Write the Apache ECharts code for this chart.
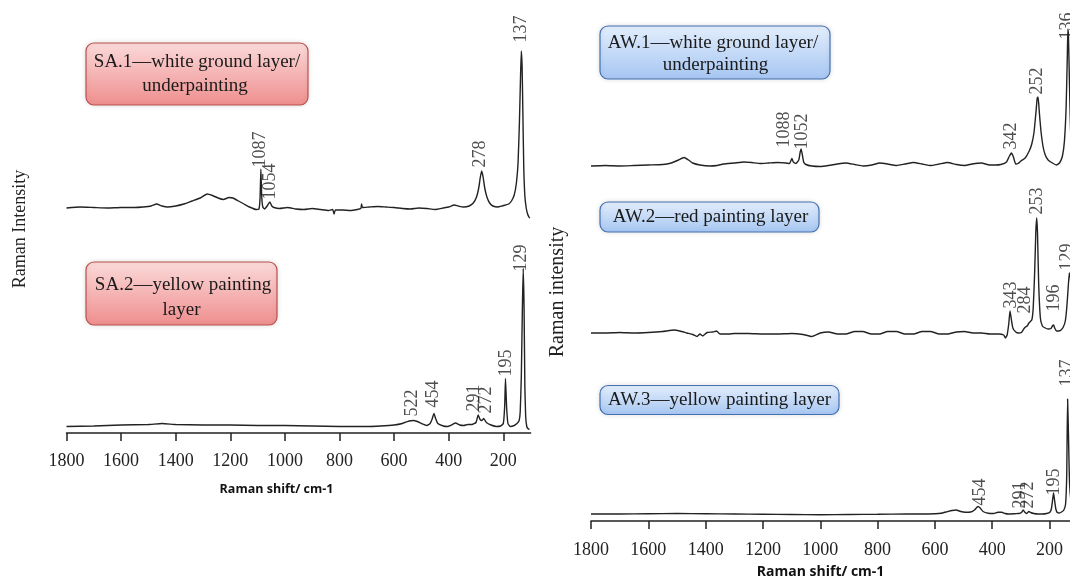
<!DOCTYPE html>
<html><head><meta charset="utf-8">
<script src="https://cdn.jsdelivr.net/npm/echarts@6/dist/echarts.min.js"></script>
<style>html,body{margin:0;padding:0;background:#fff}#c{width:1070px;height:577px}</style>
</head><body><div id="c"></div>
<script>
// ---------- data ----------
const TICKS = [200, 400, 600, 800, 1000, 1200, 1400, 1600, 1800];
const X_TITLE = 'Raman shift/ cm-1';

// stacking offsets of the spectra (arbitrary intensity units)
const SA1_OFFSET = 225;
const SA2_OFFSET = 6.5;
const AW1_OFFSET = 355;
const AW2_OFFSET = 188;
const AW3_OFFSET = 7;

// [Raman shift, relative intensity]
const sa1 = [[1800,0],[1750,1],[1700,0.5],[1650,0],[1600,0.5],[1550,0.5],[1520,1],[1490,2],[1470,4],[1450,2],[1430,1],[1400,2],[1370,4],[1340,7],[1310,10],[1285,14],[1265,12.5],[1245,10],[1225,8.5],[1205,10.5],[1190,10],[1170,7],[1150,4],[1130,1],[1105,-1.5],[1095,-1],[1091,10],[1088,39],[1085,12],[1081,1],[1075,-1],[1065,2],[1055,6],[1048,2],[1040,0.5],[1020,-0.5],[990,0.5],[960,-1],[930,-1.5],[900,-0.5],[870,-1.5],[840,-2.5],[825,-1.5],[820,-6],[815,-2],[790,-2],[760,-2.5],[735,-1.5],[722,-0.5],[719,4],[716,0.5],[690,1],[660,1.5],[630,1],[600,0.5],[570,-0.5],[540,-1],[510,0],[480,-0.5],[450,-1.5],[420,0],[400,1],[380,3],[365,2],[345,1],[325,2],[310,5],[298,11],[290,20],[284,31],[279,37],[274,31],[268,20],[260,11],[250,5],[238,2],[220,1],[205,2],[192,3],[180,4],[170,7],[160,13],[152,25],[146,45],[141,85],[137,130],[134,157],[131,140],[128,90],[125,40],[121,12],[116,0],[111,-6],[106,-9],[103,-10]];
const sa2 = [[1800,0],[1700,0.5],[1600,1.5],[1500,2],[1450,3],[1400,2],[1300,1.5],[1200,1.5],[1100,1],[1000,1],[900,0.5],[800,0],[700,0],[650,0.5],[600,1.5],[570,3],[545,5.5],[530,6],[515,5],[500,3],[480,1],[468,3],[460,8],[454,13],[448,8],[440,3],[420,0.5],[405,0],[390,1.5],[375,3.5],[360,1.5],[345,1],[330,2],[315,2],[300,4],[292,11.5],[285,7],[278,6],[272,8],[262,4],[245,1.5],[225,0],[210,0.5],[200,3],[195,20],[192,48],[188,20],[183,3],[175,0],[160,1],[150,3],[142,6],[138,15],[134,50],[130,120],[127,158],[124,120],[121,40],[118,10],[114,0],[110,-2],[104,-3]];
const aw1 = [[1800,0],[1750,0.5],[1700,0],[1650,0.5],[1600,1],[1550,1.5],[1520,3],[1495,6],[1475,8.5],[1460,6],[1445,3],[1420,1],[1385,0],[1360,0.5],[1338,2],[1300,3],[1267,4],[1240,3.5],[1208,2.5],[1180,3],[1148,3.5],[1120,3],[1107,2.5],[1103,5],[1099,7.5],[1094,4],[1085,2.5],[1075,6],[1070,14],[1067,17],[1063,12],[1058,4],[1050,1.5],[1030,0],[1000,-0.5],[971,0.5],[940,2],[911,3],[880,1.5],[850,0],[820,1],[793,3],[765,2],[734,0.5],[705,2],[674,3.5],[645,2],[615,0.5],[585,2],[556,3.5],[525,1.5],[497,0.5],[470,2],[437,3],[410,1],[389,1],[370,1.5],[350,4],[340,10],[333,13],[326,9],[318,2],[310,2.5],[300,5],[285,8],[271,15],[262,22],[254,34],[247,55],[243,68],[240,69],[236,55],[230,35],[223,20],[215,11],[205,6],[190,3],[176,1],[165,3],[155,10],[148,25],[142,60],[138,110],[136,137],[134,130],[131,90],[127,40],[122,15],[115,5],[100,0]];
const aw2 = [[1800,0],[1750,0],[1700,0.5],[1650,0],[1600,0.5],[1550,1.5],[1510,3],[1490,2],[1465,0],[1445,-1.5],[1430,-3.5],[1420,-1],[1410,-3],[1395,0.5],[1375,1],[1362,2],[1350,-1],[1320,-1],[1300,-0.5],[1250,-0.5],[1200,-1],[1150,-1],[1100,-0.5],[1060,-1.5],[1030,-3.5],[1000,0],[971,1],[940,-1],[911,-1],[880,1.5],[852,1.5],[822,-1],[793,-1],[765,1.5],[734,1.5],[705,-1],[674,-1],[645,1.5],[615,1.5],[585,-1],[556,-1],[525,1],[497,1.5],[467,0],[437,0],[408,-1],[378,-1],[360,-2],[354,-5],[348,-2],[342,10],[338,22],[334,15],[328,5],[318,1],[308,0],[298,0.5],[290,4],[284,6],[278,7],[272,10],[262,13],[257,25],[252,60],[248,100],[245,115],[242,100],[238,50],[232,15],[225,7],[215,5],[205,4],[195,4.5],[190,7],[186,8],[182,5],[176,2],[168,2],[160,3],[152,6],[145,12],[140,25],[135,45],[131,60],[127,55],[122,25],[115,8],[100,0]];
const aw3 = [[1800,0],[1700,0],[1600,0.3],[1500,0.5],[1400,0.3],[1300,0],[1200,-0.3],[1100,-0.5],[1000,-0.8],[900,-0.5],[800,-0.3],[700,0],[640,0],[600,0.3],[579,0.7],[556,2.4],[540,3.5],[526,4],[510,2.5],[495,1.7],[475,2],[462,4],[450,7.5],[442,6],[432,2.5],[414,0.7],[395,0.5],[380,1.7],[367,1.7],[355,0.5],[343,0],[320,0.3],[307,0.5],[298,1.5],[292,4],[287,2],[280,0.5],[272,2.5],[266,1.5],[255,0.5],[240,0],[225,0],[210,0.5],[198,2],[193,6],[189,15],[186,21],[183,15],[178,5],[173,1.5],[166,1],[158,2],[150,4],[144,10],[140,40],[137,115],[134,80],[130,30],[122,8],[110,2],[100,0]];

// peak labels: [Raman shift, label base height, text]
const saPeakLabels = [[131.5,390,'137'],[282,265,'278'],[1088,265,'1087'],[1051,233,'1054'],[131,161,'129'],[186,56,'195'],[304,21,'291'],[259,19,'272'],[454,25,'454'],[531,16,'522']];
const awPeakLabels = [[1123,373,'1088'],[1060,371,'1052'],[331,371,'342'],[240,426,'252'],[135.5,481,'136'],[331,212,'343'],[282,207,'284'],[240,306,'253'],[181,209,'196'],[135.5,250,'129'],[439,15,'454'],[300,12,'291'],[272,12,'272'],[181,25,'195'],[135.5,134,'137']];

const saBoxes = [
  {lines: ['SA.1\u2014white ground layer/', 'underpainting']},
  {lines: ['SA.2\u2014yellow painting', 'layer']}
];
const awBoxes = [
  {lines: ['AW.1\u2014white ground layer/', 'underpainting']},
  {lines: ['AW.2\u2014red painting layer']},
  {lines: ['AW.3\u2014yellow painting layer']}
];
const Y_TITLE_LEFT = 'Raman Intensity';
const Y_TITLE_RIGHT = 'Raman intensity';

// ---------- chart ----------
const SERIF = '"Liberation Serif", "DejaVu Serif", serif';
const chart = echarts.init(document.getElementById('c'), null, {renderer: 'canvas'});
const shift = (arr, off) => arr.map(p => [p[0], p[1] + off]);

function xAxisCfg(gridIndex, fontSize, margin, nameGap, nameSize, padRight) {
  return {
    type: 'value', gridIndex, inverse: true, min: 100, max: 1800,
    splitLine: {show: false},
    axisLine: {show: true, onZero: false, lineStyle: {color: '#222', width: 1.5}},
    axisTick: {show: true, inside: false, length: 8, customValues: TICKS, lineStyle: {color: '#222', width: 1.5}},
    axisLabel: {show: true, customValues: TICKS, formatter: v => String(v), margin, fontFamily: SERIF, fontSize, color: '#222'},
    name: X_TITLE, nameLocation: 'middle', nameGap,
    nameTextStyle: {fontFamily: '"Open Sans", "Liberation Sans", sans-serif', fontWeight: 'bold', fontSize: nameSize, color: '#111', padding: [0, padRight, 0, 0]}
  };
}

function lineSeries(data, xi) {
  return {
    type: 'line', xAxisIndex: xi, yAxisIndex: xi, data, showSymbol: false, smooth: 0.15,
    lineStyle: {color: '#222', width: 1.4}, silent: true, animation: false
  };
}
function labelSeries(labels, xi) {
  return {
    type: 'scatter', xAxisIndex: xi, yAxisIndex: xi, symbolSize: 1, silent: true, animation: false,
    itemStyle: {color: 'rgba(0,0,0,0)'},
    data: labels.map(l => ({value: [l[0], l[1]], name: l[2]})),
    label: {show: true, formatter: p => p.name, position: [0, 0], rotate: 90, align: 'left', verticalAlign: 'middle',
      fontFamily: SERIF, fontSize: 18, color: '#222'}
  };
}

const pinkFill = () => new echarts.graphic.LinearGradient(0, 0, 0, 1, [{offset: 0, color: '#fbdada'}, {offset: 1, color: '#ef8e8e'}]);
const blueFill = () => new echarts.graphic.LinearGradient(0, 0, 0, 1, [{offset: 0, color: '#e3eefc'}, {offset: 1, color: '#a6c6f2'}]);

function boxGraphic(box, rect, textCx, lineYs, fill, stroke) {
  const els = [{
    type: 'rect', shape: {x: rect[0], y: rect[1], width: rect[2], height: rect[3], r: 8},
    style: {fill, stroke, lineWidth: 1.2, shadowBlur: 5, shadowColor: 'rgba(0,0,0,0.12)'}
  }];
  box.lines.forEach((t, i) => els.push({
    type: 'text', x: textCx[i], y: lineYs[i],
    style: {text: t, font: '19px ' + SERIF, fill: '#1a1a1a', align: 'center', verticalAlign: 'middle'}
  }));
  return els;
}

const graphics = [].concat(
  boxGraphic(saBoxes[0], [86, 43, 222, 62], [197, 195], [62, 86], pinkFill(), '#b9504c'),
  boxGraphic(saBoxes[1], [86, 262, 191, 63], [183, 181.5], [285, 310], pinkFill(), '#b9504c'),
  boxGraphic(awBoxes[0], [600, 26, 230, 53], [713, 715.5], [43, 65], blueFill(), '#4470b0'),
  boxGraphic(awBoxes[1], [600, 202, 219, 30], [710.5], [217], blueFill(), '#4470b0'),
  boxGraphic(awBoxes[2], [600, 385.5, 239, 29], [719.5], [400], blueFill(), '#4470b0'),
  [
    {type: 'text', x: 20, y: 229, rotation: Math.PI / 2,
     style: {text: Y_TITLE_LEFT, font: '18px ' + SERIF, fill: '#222', align: 'center', verticalAlign: 'middle'}},
    {type: 'text', x: 558, y: 292, rotation: Math.PI / 2,
     style: {text: Y_TITLE_RIGHT, font: '20px ' + SERIF, fill: '#222', align: 'center', verticalAlign: 'middle'}}
  ]
);

chart.setOption({
  animation: false,
  backgroundColor: '#ffffff',
  grid: [
    {left: 66.5, width: 464.1, top: 33, height: 400, outerBoundsMode: 'none', containLabel: false},
    {left: 591, width: 487.2, top: 1, height: 520, outerBoundsMode: 'none', containLabel: false}
  ],
  xAxis: [
    xAxisCfg(0, 18, 19, 50, 12.5, 44),
    xAxisCfg(1, 18, 20, 44, 14, 28)
  ],
  yAxis: [
    {type: 'value', gridIndex: 0, min: 0, max: 400, show: false},
    {type: 'value', gridIndex: 1, min: 0, max: 520, show: false}
  ],
  series: [
    lineSeries(shift(sa1, SA1_OFFSET), 0),
    lineSeries(shift(sa2, SA2_OFFSET), 0),
    lineSeries(shift(aw1, AW1_OFFSET), 1),
    lineSeries(shift(aw2, AW2_OFFSET), 1),
    lineSeries(shift(aw3, AW3_OFFSET), 1),
    labelSeries(saPeakLabels, 0),
    labelSeries(awPeakLabels, 1)
  ],
  graphic: graphics
});
</script>
</body></html>
